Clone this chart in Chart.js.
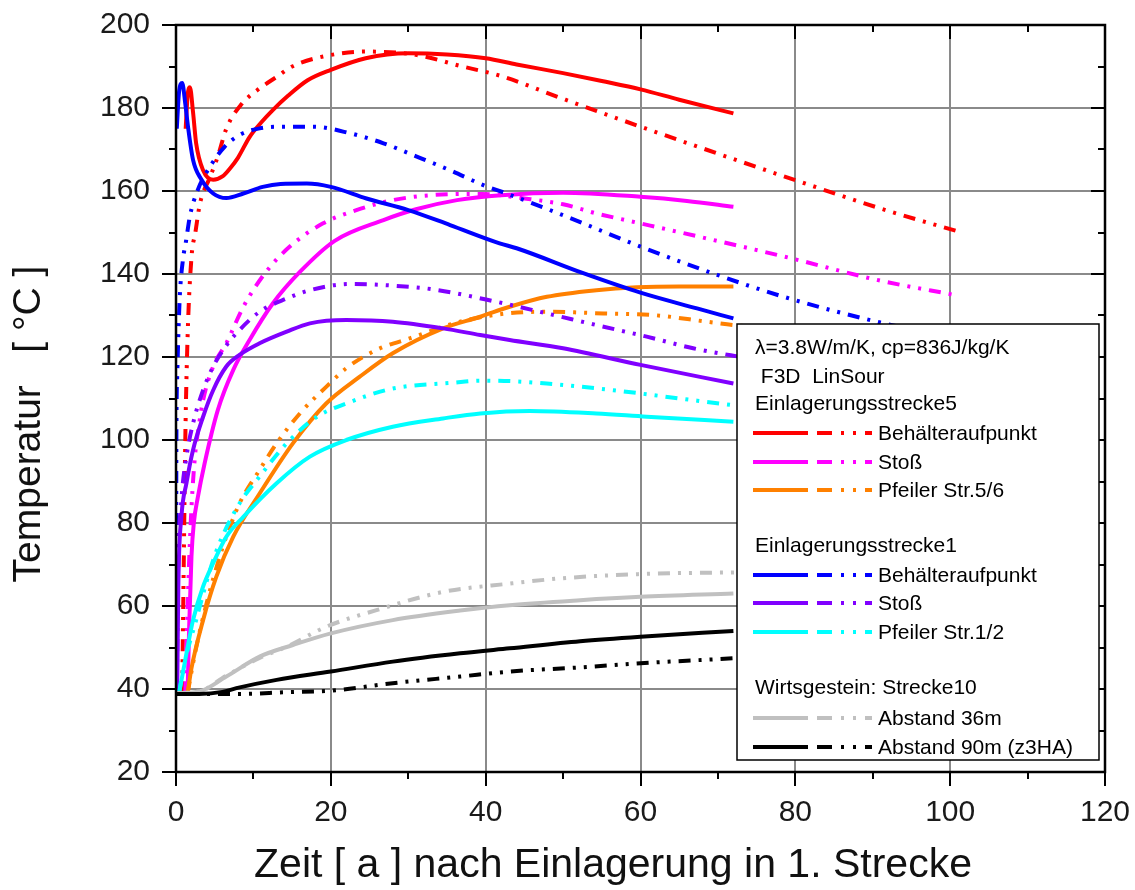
<!DOCTYPE html>
<html>
<head>
<meta charset="utf-8">
<script src="https://cdn.jsdelivr.net/npm/chart.js@4.4.1/dist/chart.umd.min.js"></script>
<style>
  html, body { margin: 0; padding: 0; background: #fff; }
  #wrap { width: 1135px; height: 890px; }
</style>
</head>
<body>
<div id="wrap"><canvas id="c" width="1135" height="890"></canvas></div>
<script>
// Temperature histories (°C) over time after first emplacement (years)

// Einlagerungsstrecke 5 – Behälteraufpunkt
const s5BehSolidT = [1.25, 1.5, 1.8, 2.2, 2.6, 3.5, 4.8, 6.0, 7.0, 8.0, 9.5, 11, 12.5, 14.5, 17, 20, 24.5, 30, 35, 40, 44, 50, 55, 60, 65, 72];
const s5BehSolidV = [175, 183, 185, 179, 171.5, 165, 162.7, 163.5, 165.5, 168, 173, 176.5, 179.5, 183, 186.7, 189.2, 192, 193.2, 192.9, 192, 190.5, 188.4, 186.5, 184.5, 182, 178.7];
const s5BehDashT = [0.8, 1.0, 1.2, 1.5, 2.0, 2.5, 3.1, 4.4, 5.4, 6.5, 8.5, 10.5, 13, 15, 19, 24.5, 31, 37, 42, 50, 60, 70, 80, 92, 101.5];
const s5BehDashV = [39, 70, 100, 125, 144, 150, 157, 163.4, 168.3, 175, 181, 184.3, 187.5, 190, 192.4, 193.6, 192.8, 190, 187.7, 182.2, 175.5, 169, 162.6, 155.2, 150];

// Einlagerungsstrecke 5 – Stoß
const s5StossSolidT = [1.5, 1.7, 2.0, 2.3, 2.8, 3.7, 5.4, 7.4, 9.5, 12.5, 16, 20.5, 26.8, 31, 36.3, 42, 50, 60, 66, 72];
const s5StossSolidV = [39, 55, 72, 80, 86, 94.4, 107.2, 116.9, 124.1, 132.9, 140.5, 148, 153, 155.6, 157.8, 159, 159.6, 158.6, 157.6, 156.2];
const s5StossDashT = [1.2, 1.5, 1.9, 2.4, 3.0, 3.5, 4.8, 6.5, 8.7, 11.5, 14.7, 19, 23.3, 28, 33, 39.5, 45, 50, 54.3, 60, 68, 79, 90.5, 101];
const s5StossDashV = [39, 60, 80, 95, 104, 109.6, 117.7, 123.3, 132.1, 140.2, 146.6, 152.2, 155.4, 157.8, 159, 159.3, 158.2, 156.8, 154.6, 152.2, 148.8, 144, 138.6, 134.8];

// Einlagerungsstrecke 5 – Pfeiler Str.5/6
const s5PfSolidT = [1.5, 2.0, 3.5, 5.2, 7.4, 10.8, 15.1, 19.4, 23.7, 28, 34.5, 39.3, 43.1, 47.9, 54.3, 59.5, 65, 72];
const s5PfSolidV = [39, 45, 56.6, 67, 76.7, 87.1, 99.2, 108.8, 115.2, 120.9, 126.9, 129.7, 132.1, 134.5, 136.1, 136.8, 137, 137];
const s5PfDashT = [1.5, 2.5, 4, 5.5, 6.5, 8.2, 10.8, 13, 16, 19.4, 22, 25.9, 30.2, 36.7, 42.7, 47.9, 55.2, 61.7, 68.6, 72, 85, 101];
const s5PfDashV = [39, 49, 61, 71, 76.7, 84.7, 92.8, 99.2, 106.4, 112.8, 117.3, 121.7, 124.5, 128.5, 130.5, 130.9, 130.5, 130.1, 128.5, 127.7, 125.5, 122];

// Einlagerungsstrecke 1 – Behälteraufpunkt
const s1BehSolidT = [0.1, 0.4, 0.8, 1.2, 1.55, 2.2, 3.3, 4.8, 6.5, 8.7, 11.2, 13.5, 16.9, 20, 24.6, 30, 35.4, 41.8, 44, 52.6, 60, 67.3, 72];
const s1BehSolidV = [175, 184, 186, 181, 175.5, 167.5, 162.7, 159.4, 158.3, 159.4, 161, 161.7, 161.8, 161, 158.2, 155.4, 151.8, 147.4, 146.2, 140.2, 135.5, 131.7, 129.3];
const s1BehDashT = [0, 0.05, 0.15, 0.3, 0.5, 0.9, 1.3, 1.8, 2.8, 4.4, 6.3, 8.2, 10.8, 13.5, 17.7, 22.5, 26.8, 31.1, 35.4, 39.7, 42.7, 50.5, 60, 69.9, 78.5, 91, 101];
const s1BehDashV = [39, 100, 115, 125, 135, 143.5, 148, 154, 160.2, 165.9, 170.7, 173.5, 175.1, 175.5, 175.5, 173.9, 171.5, 168.3, 165, 161.4, 159.4, 153.8, 146.6, 139.8, 134.5, 128.3, 124.5];

// Einlagerungsstrecke 1 – Stoß
const s1StossSolidT = [0.15, 0.3, 0.7, 1.35, 2.2, 3.5, 4.8, 6.5, 8.2, 10.8, 14.3, 17.3, 22, 28, 34.5, 39.3, 43.1, 50, 60, 72];
const s1StossSolidV = [39, 65, 81.5, 89.6, 97.6, 105.6, 112, 117.7, 120.5, 123.3, 126.1, 128.1, 128.9, 128.5, 126.9, 125.3, 124.1, 122.1, 118.1, 113.6];
const s1StossDashT = [0.1, 0.3, 0.7, 1.35, 2.2, 3.5, 4.8, 6.2, 7.8, 10.8, 14.3, 17.3, 22.5, 28, 33.2, 41.4, 47.9, 54.3, 60.8, 66.8, 72, 85, 101];
const s1StossDashV = [39, 70, 85.5, 96, 104, 112, 117.7, 122, 125.7, 130.9, 134.1, 136.1, 137.6, 137.2, 136.3, 133.3, 130.5, 127.7, 124.9, 122.1, 120.3, 116.5, 112];

// Einlagerungsstrecke 1 – Pfeiler Str.1/2
const s1PfSolidT = [0.4, 1.35, 2.2, 3.5, 4.8, 6.5, 8.7, 13, 17.3, 22, 28, 34.5, 39.3, 45.7, 54.3, 60.8, 72];
const s1PfSolidV = [39, 48.6, 56.6, 64.7, 70.3, 76.7, 81.5, 89.6, 96, 100, 103.2, 105.2, 106.4, 107, 106.4, 105.6, 104.4];
const s1PfDashT = [0.4, 0.9, 2.6, 4.4, 5.6, 8.2, 10.8, 14.3, 18.2, 22, 28, 35.8, 39.3, 43.1, 47.9, 56.5, 65.1, 72, 85, 101];
const s1PfDashV = [39, 44.6, 56.6, 68.7, 75.1, 84.7, 91.2, 99.2, 105.6, 108.8, 112.4, 113.8, 114.3, 114.2, 113.6, 112, 110, 108.4, 106, 103];

// Wirtsgestein, Strecke 10 – Abstand 36 m
const w36SolidT = [0, 3, 6.5, 10.8, 15.1, 20, 28, 36.7, 43.1, 52.2, 60, 72];
const w36SolidV = [39, 39.4, 43, 47.8, 50.6, 53.4, 56.6, 58.9, 60.2, 61.4, 62.2, 63];
const w36DashT = [0, 3, 6.5, 10.8, 14.3, 19.4, 25.9, 34.5, 43.1, 50, 60, 72, 85, 101];
const w36DashV = [39, 39.4, 43.2, 47.5, 50.2, 55, 59, 63.4, 65.4, 66.7, 67.7, 68.1, 68.3, 68.4];

// Wirtsgestein, Strecke 10 – Abstand 90 m (z3HA)
const w90SolidT = [0, 3, 6, 7.8, 13, 20, 28, 36.7, 43.1, 52.2, 60, 72];
const w90SolidV = [38.8, 38.8, 39.3, 40.2, 42.2, 44.2, 46.6, 48.6, 49.8, 51.5, 52.6, 54];
const w90DashT = [0, 8, 14, 20, 28, 36.7, 43.1, 52.2, 60, 72, 85, 101];
const w90DashV = [38.8, 38.8, 39.2, 39.6, 41.4, 43, 44.2, 45.2, 46.2, 47.4, 48.8, 50.5];

// Axis ranges and tick labels
const xTicks = [0, 20, 40, 60, 80, 100, 120];
const yTicks = [20, 40, 60, 80, 100, 120, 140, 160, 180, 200];

// Legend texts
const legendHeader = ['\u03BB=3.8W/m/K, cp=836J/kg/K', ' F3D  LinSour'];
const groupTitles = ['Einlagerungsstrecke5', 'Einlagerungsstrecke1', 'Wirtsgestein: Strecke10'];
const entryLabels = ['Behälteraufpunkt', 'Stoß', 'Pfeiler Str.5/6', 'Behälteraufpunkt', 'Stoß', 'Pfeiler Str.1/2', 'Abstand 36m', 'Abstand 90m (z3HA)'];

const FONT = "'Liberation Sans', Arial, Helvetica, sans-serif";
const DASH = [12, 8, 3, 8, 3, 8];

const pts = (t, v) => t.map((x, i) => ({ x, y: v[i] }));

const series = [
  { color: '#ff0000', t: s5BehSolidT, v: s5BehSolidV, dash: [] },
  { color: '#ff0000', t: s5BehDashT, v: s5BehDashV, dash: DASH },
  { color: '#ff00ff', t: s5StossSolidT, v: s5StossSolidV, dash: [] },
  { color: '#ff00ff', t: s5StossDashT, v: s5StossDashV, dash: DASH },
  { color: '#ff8000', t: s5PfSolidT, v: s5PfSolidV, dash: [] },
  { color: '#ff8000', t: s5PfDashT, v: s5PfDashV, dash: DASH },
  { color: '#0000ff', t: s1BehSolidT, v: s1BehSolidV, dash: [] },
  { color: '#0000ff', t: s1BehDashT, v: s1BehDashV, dash: DASH },
  { color: '#8000ff', t: s1StossSolidT, v: s1StossSolidV, dash: [] },
  { color: '#8000ff', t: s1StossDashT, v: s1StossDashV, dash: DASH },
  { color: '#00ffff', t: s1PfSolidT, v: s1PfSolidV, dash: [] },
  { color: '#00ffff', t: s1PfDashT, v: s1PfDashV, dash: DASH },
  { color: '#c0c0c0', t: w36SolidT, v: w36SolidV, dash: [] },
  { color: '#c0c0c0', t: w36DashT, v: w36DashV, dash: DASH },
  { color: '#000000', t: w90SolidT, v: w90SolidV, dash: [] },
  { color: '#000000', t: w90DashT, v: w90DashV, dash: DASH }
];

const datasets = series.map((s, i) => ({
  label: entryLabels[Math.floor(i / 2)] + (s.dash.length ? ' (2)' : ''),
  data: pts(s.t, s.v),
  borderColor: s.color,
  backgroundColor: s.color,
  borderWidth: 4,
  borderDash: s.dash,
  pointRadius: 0,
  fill: false,
  cubicInterpolationMode: 'monotone',
  order: series.length - i
}));

// Frame on all four sides plus major/minor tick marks
const framePlugin = {
  id: 'frame',
  afterDatasetsDraw(chart) {
    const { ctx, chartArea: a, scales: { x, y } } = chart;
    ctx.save();
    ctx.strokeStyle = '#000';
    ctx.lineWidth = 2.5;
    ctx.strokeRect(a.left, a.top, a.right - a.left, a.bottom - a.top);
    ctx.lineWidth = 2;
    ctx.beginPath();
    for (let v = x.min; v <= x.max + 1e-9; v += 10) {
      const px = Math.round(x.getPixelForValue(v));
      const len = v % 20 === 0 ? 14 : 7;
      ctx.moveTo(px, a.bottom); ctx.lineTo(px, a.bottom + len);
      ctx.moveTo(px, a.top); ctx.lineTo(px, a.top + len);
    }
    for (let v = y.min; v <= y.max + 1e-9; v += 10) {
      const py = Math.round(y.getPixelForValue(v));
      const len = v % 20 === 0 ? 14 : 7;
      ctx.moveTo(a.left, py); ctx.lineTo(a.left - len, py);
      ctx.moveTo(a.right, py); ctx.lineTo(a.right - len, py);
    }
    ctx.stroke();
    ctx.restore();
  }
};

// Boxed legend with solid and dash-dot-dot samples per entry
const legendPlugin = {
  id: 'boxLegend',
  afterDraw(chart) {
    const { ctx } = chart;
    const ds = chart.data.datasets;
    const box = { l: 737, t: 324, r: 1099, b: 760 };
    ctx.save();
    ctx.fillStyle = '#fff';
    ctx.fillRect(box.l, box.t, box.r - box.l, box.b - box.t);
    ctx.strokeStyle = '#000';
    ctx.lineWidth = 1.5;
    ctx.strokeRect(box.l, box.t, box.r - box.l, box.b - box.t);

    ctx.fillStyle = '#000';
    ctx.font = '21px ' + FONT;
    ctx.textBaseline = 'middle';
    ctx.textAlign = 'left';
    ctx.fillText(legendHeader[0], 755, 348);
    ctx.fillText(legendHeader[1], 755, 377);

    const groupY = [404, 546, 688];
    const rowY = [433, 462, 490, 575, 603, 632, 718, 747];
    groupTitles.forEach((g, i) => ctx.fillText(g, 755, groupY[i]));

    rowY.forEach((yy, i) => {
      const solid = ds[i * 2], dashed = ds[i * 2 + 1];
      ctx.lineWidth = 4;
      ctx.strokeStyle = solid.borderColor;
      ctx.setLineDash([]);
      ctx.beginPath(); ctx.moveTo(753, yy); ctx.lineTo(808, yy); ctx.stroke();
      ctx.strokeStyle = dashed.borderColor;
      ctx.setLineDash([15, 9, 3, 9, 3, 9]);
      ctx.beginPath(); ctx.moveTo(817, yy); ctx.lineTo(872, yy); ctx.stroke();
      ctx.setLineDash([]);
      ctx.fillStyle = '#000';
      ctx.fillText(entryLabels[i], 878, yy + 1);
    });
    ctx.restore();
  }
};

// Axis titles
const titlePlugin = {
  id: 'axisTitles',
  afterDraw(chart) {
    const { ctx } = chart;
    ctx.save();
    ctx.fillStyle = '#111';
    ctx.textAlign = 'center';
    ctx.textBaseline = 'alphabetic';
    ctx.font = '41px ' + FONT;
    ctx.fillText('Zeit [ a ] nach Einlagerung in 1. Strecke', 613, 877);
    ctx.font = '39px ' + FONT;
    ctx.translate(40, 424);
    ctx.rotate(-Math.PI / 2);
    ctx.fillText('Temperatur   [ °C ]', 0, 0);
    ctx.restore();
  }
};

Chart.defaults.font.family = FONT;

new Chart(document.getElementById('c'), {
  type: 'line',
  data: { datasets },
  options: {
    responsive: false,
    devicePixelRatio: 1,
    animation: false,
    layout: { padding: { left: 0, top: 25, right: 30, bottom: 0 } },
    plugins: { legend: { display: false }, tooltip: { enabled: false } },
    scales: {
      x: {
        type: 'linear',
        min: xTicks[0],
        max: xTicks[xTicks.length - 1],
        afterBuildTicks: s => { s.ticks = xTicks.map(v => ({ value: v })); },
        afterFit: s => { s.height = 118; s.paddingLeft = 0; s.paddingRight = 0; },
        grid: { color: '#8a8a8a', lineWidth: 2, drawTicks: false },
        border: { display: false },
        ticks: { color: '#1a1a1a', font: { size: 30 }, padding: 23, maxRotation: 0 }
      },
      y: {
        type: 'linear',
        min: yTicks[0],
        max: yTicks[yTicks.length - 1],
        afterBuildTicks: s => { s.ticks = yTicks.map(v => ({ value: v })); },
        afterFit: s => { s.width = 176; s.paddingTop = 0; s.paddingBottom = 0; },
        grid: { color: '#8a8a8a', lineWidth: 2, drawTicks: false },
        border: { display: false },
        ticks: { color: '#1a1a1a', font: { size: 30 }, padding: 26 }
      }
    }
  },
  plugins: [framePlugin, legendPlugin, titlePlugin]
});
</script>
</body>
</html>
